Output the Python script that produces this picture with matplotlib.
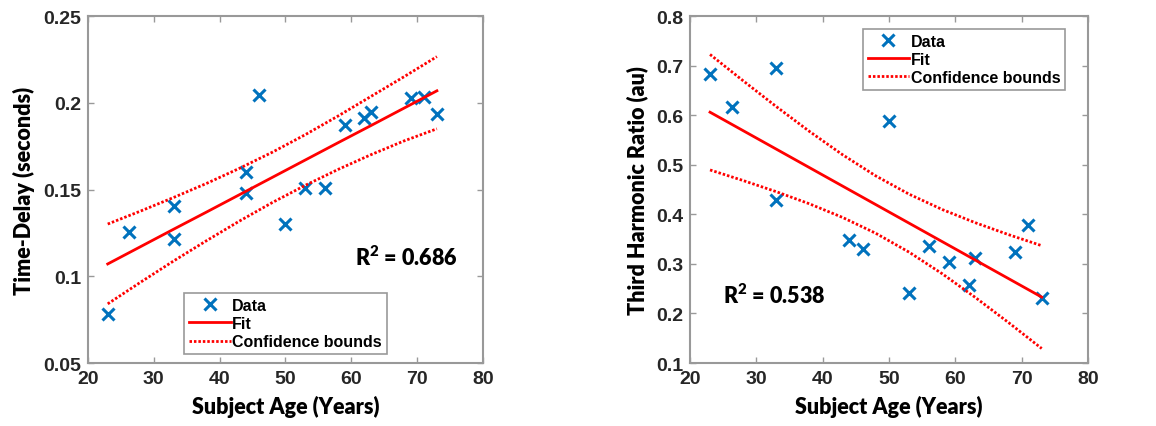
import matplotlib.pyplot as plt

# Data
age_td = [23, 26.3, 33, 33, 44, 44, 46, 50, 53, 56, 59, 62, 63, 69, 71, 73]
delay = [0.0784, 0.1257, 0.1407, 0.1215, 0.1603, 0.148, 0.2046, 0.130, 0.151,
         0.1507, 0.1873, 0.1911, 0.1944, 0.203, 0.2034, 0.1934]

age_th = [23, 26.3, 33, 33, 44, 46, 50, 53, 56, 59, 62, 63, 69, 71, 73]
harmonic = [0.683, 0.616, 0.695, 0.428, 0.349, 0.331, 0.588, 0.2406, 0.337,
            0.304, 0.2567, 0.312, 0.324, 0.379, 0.2318]

# fit lines and confidence bounds (sampled along age)
fit_x = [23, 28, 33, 38, 43, 48, 53, 58, 63, 68, 73]
td_fit = [0.1071, 0.1171, 0.1271, 0.1370, 0.1470, 0.1570, 0.1670, 0.1770, 0.1869, 0.1969, 0.2069]
td_upper = [0.1301, 0.1376, 0.1454, 0.1535, 0.1622, 0.1715, 0.1816, 0.1924, 0.2037, 0.2150, 0.2266]
td_lower = [0.0841, 0.0966, 0.1088, 0.1205, 0.1318, 0.1425, 0.1524, 0.1616, 0.1701, 0.1780, 0.1850]

th_fit = [0.606, 0.5687, 0.5314, 0.4941, 0.4568, 0.4195, 0.3822, 0.3449, 0.3076, 0.2703, 0.2330]
th_upper = [0.7225, 0.6693, 0.6172, 0.5671, 0.5200, 0.4774, 0.4407, 0.4097, 0.3830, 0.3590, 0.3367]
th_lower = [0.4895, 0.4681, 0.4456, 0.4211, 0.3936, 0.3616, 0.3237, 0.2801, 0.2322, 0.1816, 0.1293]

r2_td = 0.686
r2_th = 0.538

BLUE = '#0072BD'
RED = '#FF0000'
GREY = '#999999'
TICK_FONT = 'Liberation Sans'
LABEL_FONT = 'Lato'
DOTS = (0, (0.9, 0.7))

# R^2 superscript drawn in the label font
plt.rcParams['mathtext.fontset'] = 'custom'
plt.rcParams['mathtext.rm'] = 'Lato:heavy'
plt.rcParams['mathtext.bf'] = 'Lato:heavy'


def style_axes(ax, ylim, yticks, yfmt):
    ax.set_xlim(20, 80)
    ax.set_ylim(*ylim)
    ax.set_xticks(range(20, 81, 10))
    ax.set_yticks(yticks)
    ax.set_yticklabels([yfmt(t) for t in yticks])
    for s in ax.spines.values():
        s.set_color(GREY)
        s.set_linewidth(1.5)
    ax.tick_params(direction='in', length=4, width=1, color=GREY,
                   top=True, right=True, labelcolor='#262626', labelsize=14, pad=5)
    for lab in ax.get_xticklabels() + ax.get_yticklabels():
        lab.set_fontfamily(TICK_FONT)
        lab.set_fontweight('bold')


def draw(ax, x, y, fx, f, up, lo):
    ax.plot(x, y, 'x', color=BLUE, markersize=9, mew=2.2, label='Data')
    ax.plot(fx, f, '-', color=RED, lw=2, label='Fit')
    ax.plot(fx, up, linestyle=DOTS, color=RED, lw=2, label='Confidence bounds')
    ax.plot(fx, lo, linestyle=DOTS, color=RED, lw=2)


def legend(ax, loc, anchor):
    leg = ax.legend(loc=loc, bbox_to_anchor=anchor, fancybox=False, framealpha=1,
                    edgecolor=GREY, handlelength=2.6, handletextpad=0.1,
                    borderpad=0.3, labelspacing=0.2, borderaxespad=0,
                    prop={'family': TICK_FONT, 'weight': 'bold', 'size': 11.5})
    leg.get_frame().set_linewidth(1.2)


def labels(ax, xlab, ylab):
    ax.set_xlabel(xlab, fontsize=15.5, fontfamily=LABEL_FONT,
                  fontweight='heavy', labelpad=6)
    ax.set_ylabel(ylab, fontsize=15.5, fontfamily=LABEL_FONT,
                  fontweight='heavy', labelpad=6)


def r2_text(ax, x, y, r2):
    ax.text(x, y, r'$\mathrm{R^2}$ = %.3f' % r2, fontsize=15.5,
            fontfamily=LABEL_FONT, fontweight='heavy', va='center')


fig = plt.figure(figsize=(11.56, 4.27), dpi=100)
ax1 = fig.add_axes([0.0761, 0.1475, 0.3417, 0.8126])
ax2 = fig.add_axes([0.597, 0.1475, 0.3443, 0.8126])

draw(ax1, age_td, delay, fit_x, td_fit, td_upper, td_lower)
style_axes(ax1, (0.05, 0.25), [0.05, 0.1, 0.15, 0.2, 0.25],
           lambda t: ('%.2f' % t).rstrip('0').rstrip('.'))
legend(ax1, 'lower center', (0.5, 0.026))
r2_text(ax1, 60.5, 0.111, r2_td)
labels(ax1, 'Subject Age (Years)', 'Time-Delay (seconds)')

draw(ax2, age_th, harmonic, fit_x, th_fit, th_upper, th_lower)
style_axes(ax2, (0.1, 0.8), [0.1, 0.2, 0.3, 0.4, 0.5, 0.6, 0.7, 0.8],
           lambda t: '%.1f' % t)
legend(ax2, 'upper right', (0.942, 0.963))
r2_text(ax2, 25, 0.238, r2_th)
labels(ax2, 'Subject Age (Years)', 'Third Harmonic Ratio (au)')

fig.savefig('out.png', dpi=100)
